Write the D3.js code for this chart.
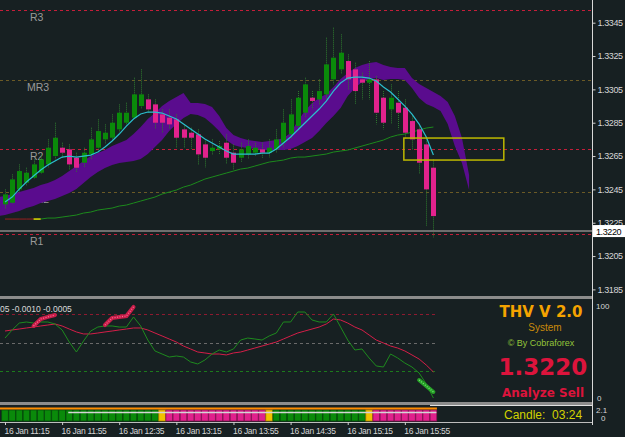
<!DOCTYPE html>
<html>
<head>
<meta charset="utf-8">
<script src="https://cdn.jsdelivr.net/npm/d3@7"></script>
<style>
  html, body { margin: 0; padding: 0; background: #172022; }
  svg { display: block; }
</style>
</head>
<body>
<div id="chart"></div>
<script>
// EURUSD-style M5 chart, 16 Jan 11:15 .. 16:15, with THV oscillator below

const W = 625, H = 437;
const BG = '#172022';

// candles: [open, high, low, close], one per 5-minute bar from 11:15
const candles = [
  [1.3236, 1.3245, 1.3233, 1.3242], [1.3237, 1.3254, 1.3236, 1.3251],
  [1.3245, 1.3260, 1.3243, 1.3256], [1.3249, 1.3258, 1.3247, 1.3255],
  [1.3252, 1.3263, 1.3251, 1.3260], [1.3255, 1.3266, 1.3254, 1.3263],
  [1.3260, 1.3275, 1.3258, 1.3270], [1.3265, 1.3285, 1.3263, 1.3276],
  [1.3270, 1.3273, 1.3264, 1.3267], [1.3269, 1.3272, 1.3257, 1.3260],
  [1.3264, 1.3267, 1.3255, 1.3258], [1.3261, 1.3270, 1.3258, 1.3267],
  [1.3266, 1.3282, 1.3263, 1.3275], [1.3270, 1.3287, 1.3267, 1.3280],
  [1.3275, 1.3284, 1.3272, 1.3279], [1.3276, 1.3290, 1.3275, 1.3285],
  [1.3281, 1.3296, 1.3279, 1.3291], [1.3285, 1.3297, 1.3283, 1.3291],
  [1.3288, 1.3312, 1.3287, 1.3302], [1.3295, 1.3317, 1.3293, 1.3302],
  [1.3299, 1.3302, 1.3291, 1.3293], [1.3296, 1.3299, 1.3281, 1.3285],
  [1.3290, 1.3293, 1.3279, 1.3285], [1.3288, 1.3293, 1.3281, 1.3284],
  [1.3287, 1.3290, 1.3270, 1.3276], [1.3281, 1.3284, 1.3270, 1.3276],
  [1.3279, 1.3282, 1.3269, 1.3276], [1.3278, 1.3281, 1.3260, 1.3266],
  [1.3272, 1.3275, 1.3258, 1.3264], [1.3268, 1.3275, 1.3266, 1.3270],
  [1.3269, 1.3274, 1.3266, 1.3271], [1.3273, 1.3278, 1.3260, 1.3264],
  [1.3267, 1.3272, 1.3257, 1.3261], [1.3264, 1.3273, 1.3261, 1.3269],
  [1.3266, 1.3275, 1.3263, 1.3271], [1.3267, 1.3273, 1.3265, 1.3270],
  [1.3269, 1.3273, 1.3264, 1.3267], [1.3267, 1.3275, 1.3264, 1.3270],
  [1.3269, 1.3281, 1.3267, 1.3275], [1.3273, 1.3293, 1.3270, 1.3285],
  [1.3278, 1.3299, 1.3275, 1.3290], [1.3283, 1.3304, 1.3281, 1.3300],
  [1.3291, 1.3312, 1.3288, 1.3308], [1.3300, 1.3304, 1.3293, 1.3298],
  [1.3299, 1.3311, 1.3296, 1.3304], [1.3302, 1.3336, 1.3299, 1.3320],
  [1.3311, 1.3342, 1.3308, 1.3324], [1.3317, 1.3338, 1.3314, 1.3327],
  [1.3322, 1.3326, 1.3305, 1.3311], [1.3317, 1.3321, 1.3296, 1.3304],
  [1.3311, 1.3315, 1.3299, 1.3309], [1.3309, 1.3322, 1.3299, 1.3311],
  [1.3311, 1.3313, 1.3284, 1.3291], [1.3300, 1.3304, 1.3281, 1.3285],
  [1.3293, 1.3308, 1.3284, 1.3300], [1.3297, 1.3304, 1.3281, 1.3291],
  [1.3294, 1.3299, 1.3275, 1.3279], [1.3286, 1.3290, 1.3269, 1.3275],
  [1.3281, 1.3284, 1.3254, 1.3261], [1.3272, 1.3275, 1.3223, 1.3245],
  [1.3258, 1.3263, 1.3216, 1.3229],
];

// fast MA (cyan), one value per bar
const fastMA = [
  1.32374, 1.32404, 1.32452, 1.32494, 1.32530, 1.32566, 1.32596, 1.32620, 1.32644, 1.32650,
  1.32644, 1.32650, 1.32656, 1.32674, 1.32704, 1.32740, 1.32782, 1.32830, 1.32872, 1.32902,
  1.32914, 1.32914, 1.32908, 1.32890, 1.32872, 1.32842, 1.32812, 1.32782, 1.32752, 1.32728,
  1.32704, 1.32680, 1.32662, 1.32662, 1.32662, 1.32662, 1.32668, 1.32668, 1.32692, 1.32728,
  1.32764, 1.32806, 1.32848, 1.32890, 1.32932, 1.32980, 1.33040, 1.33088, 1.33118, 1.33124,
  1.33124, 1.33118, 1.33100, 1.33064, 1.33034, 1.32992, 1.32950, 1.32902, 1.32842, 1.32764,
  1.32656,
];

// slow MA (green), one value per bar
const slowMA = [
  1.32272, 1.32272, 1.32272, 1.32272, 1.32272, 1.32272, 1.32278, 1.32278, 1.32284, 1.32290,
  1.32296, 1.32308, 1.32314, 1.32326, 1.32332, 1.32338, 1.32350, 1.32356, 1.32368, 1.32380,
  1.32392, 1.32404, 1.32422, 1.32434, 1.32446, 1.32464, 1.32476, 1.32494, 1.32512, 1.32524,
  1.32536, 1.32548, 1.32560, 1.32572, 1.32578, 1.32590, 1.32602, 1.32614, 1.32620, 1.32626,
  1.32638, 1.32644, 1.32644, 1.32650, 1.32656, 1.32662, 1.32674, 1.32680, 1.32686, 1.32698,
  1.32710, 1.32722, 1.32734, 1.32746, 1.32764, 1.32776, 1.32782, 1.32794, 1.32806, 1.32818,
  1.32824,
];

// purple band, bars -1 .. 65 (runs 5 bars past the last candle)
const CLOUD_FIRST_BAR = -1;
const cloudUpper = [
  1.32404, 1.32410, 1.32422, 1.32434, 1.32446, 1.32458, 1.32476, 1.32488, 1.32506, 1.32530,
  1.32560, 1.32590, 1.32620, 1.32650, 1.32668, 1.32686, 1.32710, 1.32728, 1.32746, 1.32782,
  1.32824, 1.32872, 1.32908, 1.32950, 1.32980, 1.33004, 1.33028, 1.32968, 1.32968, 1.32962,
  1.32944, 1.32890, 1.32818, 1.32776, 1.32758, 1.32746, 1.32740, 1.32734, 1.32740, 1.32746,
  1.32758, 1.32788, 1.32860, 1.32920, 1.32968, 1.32998, 1.33022, 1.33064, 1.33112, 1.33148,
  1.33178, 1.33196, 1.33208, 1.33214, 1.33196, 1.33184, 1.33178, 1.33178, 1.33118, 1.33082,
  1.33058, 1.33034, 1.33010, 1.32974, 1.32890, 1.32758, 1.32536,
];
const cloudLower = [
  1.32290, 1.32296, 1.32308, 1.32320, 1.32338, 1.32350, 1.32368, 1.32380, 1.32392, 1.32410,
  1.32428, 1.32452, 1.32488, 1.32524, 1.32554, 1.32578, 1.32596, 1.32608, 1.32614, 1.32620,
  1.32632, 1.32662, 1.32704, 1.32746, 1.32800, 1.32842, 1.32878, 1.32902, 1.32896, 1.32878,
  1.32842, 1.32800, 1.32746, 1.32716, 1.32704, 1.32698, 1.32692, 1.32686, 1.32686, 1.32686,
  1.32686, 1.32692, 1.32710, 1.32734, 1.32758, 1.32800, 1.32848, 1.32890, 1.32938, 1.33010,
  1.33058, 1.33094, 1.33112, 1.33118, 1.33106, 1.33112, 1.33112, 1.33106, 1.33058, 1.32998,
  1.32962, 1.32944, 1.32920, 1.32842, 1.32710, 1.32608, 1.32446,
];

// pivot levels
const pivotNames = ['R3', 'MR3', 'R2', 'MR2', 'R1'];
const pivotValues = [1.33524, 1.33106, 1.32690, 1.32436, 1.32180];

const priceTicks = [1.3345, 1.3325, 1.3305, 1.3285, 1.3265, 1.3245, 1.3225, 1.3205, 1.3185];
const lastPrice = 1.3220;

// zone box: bars 56..70, price range
const zoneBars = [56, 70];
const zonePrices = [1.32758, 1.32626];

// oscillator panel (0..100)
const oscMain = [
  64.9, 73.4, 80.7, 81.8, 80.7, 81.8, 81.8, 79.7, 73.4, 60.7,
  50.2, 61.8, 72.3, 76.5, 77.6, 77.6, 76.5, 76.5, 87.1, 77.6,
  62.8, 51.3, 48.1, 44.9, 46.0, 44.9, 39.7, 37.6, 41.8, 48.1,
  52.3, 50.2, 53.4, 62.8, 64.9, 63.9, 62.8, 67.1, 70.2, 81.8,
  81.8, 92.3, 92.3, 83.9, 81.8, 81.8, 90.2, 76.5, 62.8, 52.3,
  53.4, 43.9, 35.5, 34.4, 48.1, 43.9, 38.6, 34.4, 28.1, 16.5,
  1.8,
];
const oscSignal = [
  72.3, 73.4, 74.4, 75.5, 76.5, 77.6, 78.6, 79.7, 77.6, 74.4,
  71.3, 69.2, 69.2, 70.2, 71.3, 72.3, 73.4, 74.4, 75.5, 75.5,
  73.4, 70.2, 67.1, 63.9, 60.7, 56.5, 53.4, 50.2, 49.2, 48.1,
  48.1, 47.1, 49.2, 50.2, 52.3, 54.4, 56.5, 58.6, 60.7, 63.9,
  67.1, 70.2, 72.3, 74.4, 76.5, 79.7, 84.9, 83.9, 80.7, 76.5,
  73.4, 68.1, 62.8, 59.7, 56.5, 54.4, 51.3, 47.1, 42.8, 36.5,
  29.2,
];
const oscLevels = [90, 60, 30];
// highlighted signal strokes: [bar, value]
const sellMarks1 = [[4, 77.6], [5, 84.9], [6, 87.1], [7, 89.2]];
const sellMarks2 = [[14, 78.6], [15, 86.0], [16, 87.1], [17, 88.1], [18, 97.6]];
const buyMarks = [[58, 20.7], [59, 14.4], [60, 8.1]];

// trend strip, one state per bar: G = up, P = down, Y = switch
const stripState = ('GGGGGGGGGGGGGGGGGGGGGG' + 'Y' + 'PPPPPPPPPPPPPP' + 'Y' +
  'GGGGGGGGGGGGG' + 'Y' + 'PPPPPPPPP').split('');

const tickBars = [0, 8, 16, 24, 32, 40, 48, 56];
const timeLabels = ['16 Jan 11:15', '16 Jan 11:55', '16 Jan 12:35', '16 Jan 13:15',
  '16 Jan 13:55', '16 Jan 14:35', '16 Jan 15:15', '16 Jan 15:55'];

const STRIP_COLORS = { G: '#0a8a0a', P: '#e0208c', Y: '#f2c200' };
const UP = '#0a8a0a', DOWN = '#e2228d';
const AXIS_X = 592;

// Scales
const x = d3.scaleLinear().domain([0, 60]).range([5, 433.4]);
const y = d3.scaleLinear().domain([1.3345, 1.3185]).range([22.7, 289.4]);
const yOsc = d3.scaleLinear().domain([0, 100]).range([399.7, 304.7]);

const svg = d3.select('#chart').append('svg')
  .attr('width', W)
  .attr('height', H)
  .style('font-family', '"Liberation Sans", Arial, sans-serif');

svg.append('rect').attr('width', W).attr('height', H).attr('fill', BG);

const defs = svg.append('defs');
defs.append('clipPath').attr('id', 'main-clip')
  .append('rect').attr('x', 0).attr('y', 0).attr('width', AXIS_X).attr('height', 296);

const main = svg.append('g').attr('clip-path', 'url(#main-clip)');

// Pivot lines + labels
main.selectAll('.pivot')
  .data(pivotNames)
  .join('line')
  .attr('class', 'pivot')
  .attr('x1', 0).attr('x2', AXIS_X)
  .attr('y1', (d, i) => Math.round(y(pivotValues[i])) + 0.5)
  .attr('y2', (d, i) => Math.round(y(pivotValues[i])) + 0.5)
  .attr('stroke', d => d.startsWith('MR') ? '#6b5a26' : '#c41e3a')
  .attr('stroke-dasharray', '3,3');

main.selectAll('.pivot-label')
  .data(pivotNames)
  .join('text')
  .attr('class', 'pivot-label')
  .attr('x', d => d.startsWith('MR') ? 27 : 30)
  .attr('y', (d, i) => y(pivotValues[i]) + 11)
  .attr('font-size', '10.5px')
  .attr('fill', '#9a9a9a')
  .text(d => d);

// Purple band
const cloudBars = d3.range(CLOUD_FIRST_BAR, CLOUD_FIRST_BAR + cloudUpper.length);
main.append('path')
  .datum(cloudBars)
  .attr('fill', '#5a0c8e')
  .attr('d', d3.area()
    .x(i => x(i))
    .y0(i => y(cloudLower[i - CLOUD_FIRST_BAR]))
    .y1(i => y(cloudUpper[i - CLOUD_FIRST_BAR])));

// Slow MA: red start, short yellow piece, then green
const slowLine = d3.line().x(i => x(i)).y(i => y(slowMA[i]));
main.append('path').datum(d3.range(5, slowMA.length))
  .attr('d', slowLine).attr('fill', 'none').attr('stroke', '#1c8a1c').attr('stroke-width', 1);
main.append('path').datum(d3.range(0, 5))
  .attr('d', slowLine).attr('fill', 'none').attr('stroke', '#9a2020').attr('stroke-width', 1);
main.append('path').datum([4, 5])
  .attr('d', slowLine).attr('fill', 'none').attr('stroke', '#e0e000').attr('stroke-width', 1.5);

// Candles
const candleG = main.append('g');
candleG.selectAll('.wick')
  .data(candles)
  .join('line')
  .attr('class', 'wick')
  .attr('x1', (d, i) => Math.round(x(i)) + 0.5)
  .attr('x2', (d, i) => Math.round(x(i)) + 0.5)
  .attr('y1', d => y(d[1]))
  .attr('y2', d => y(d[2]))
  .attr('stroke', '#2f7a2f')
  .attr('stroke-dasharray', '1,1');

candleG.selectAll('.body')
  .data(candles)
  .join('rect')
  .attr('class', 'body')
  .attr('x', (d, i) => Math.round(x(i)) - 2)
  .attr('width', 5)
  .attr('y', d => y(Math.max(d[0], d[3])))
  .attr('height', d => Math.max(1.5, Math.abs(y(d[0]) - y(d[3]))))
  .attr('fill', d => d[3] >= d[0] ? UP : DOWN);

// Fast MA
main.append('path')
  .datum(fastMA)
  .attr('fill', 'none')
  .attr('stroke', '#2bbfcf')
  .attr('stroke-width', 1.2)
  .attr('d', d3.line().x((d, i) => x(i)).y(d => y(d)));

// Last price line
main.append('line')
  .attr('x1', 0).attr('x2', AXIS_X)
  .attr('y1', y(lastPrice)).attr('y2', y(lastPrice))
  .attr('stroke', '#6e6e6e').attr('stroke-width', 2);

// Zone box
main.append('rect')
  .attr('x', x(zoneBars[0]) - 1)
  .attr('y', y(zonePrices[0]))
  .attr('width', x(zoneBars[1]) - x(zoneBars[0]))
  .attr('height', y(zonePrices[1]) - y(zonePrices[0]))
  .attr('fill', 'none')
  .attr('stroke', '#bdb800')
  .attr('stroke-width', 1.5);

// Panel separators
svg.append('rect').attr('x', 0).attr('y', 296).attr('width', AXIS_X).attr('height', 3).attr('fill', '#8c8c8c');
svg.append('rect').attr('x', 0).attr('y', 402).attr('width', AXIS_X).attr('height', 3).attr('fill', '#8c8c8c');
svg.append('line').attr('x1', 430).attr('x2', AXIS_X).attr('y1', 405.5).attr('y2', 405.5).attr('stroke', '#e0e0e0');
svg.append('line').attr('x1', 0).attr('x2', AXIS_X).attr('y1', 422.5).attr('y2', 422.5).attr('stroke', '#bdbdbd');

// Price axis
const priceAxis = svg.append('g')
  .attr('transform', `translate(${AXIS_X + 0.5},0)`)
  .call(d3.axisRight(y).tickValues(priceTicks).tickFormat(d3.format('.4f')).tickSize(3).tickPadding(2));
priceAxis.select('.domain').remove();
priceAxis.selectAll('line').attr('stroke', '#d0d0d0');
priceAxis.selectAll('text')
  .attr('fill', '#d6d6d6')
  .attr('font-size', '9px')
  .attr('letter-spacing', '-0.4px')
  .attr('font-family', '"Liberation Sans", Arial, sans-serif');

svg.append('line')
  .attr('x1', AXIS_X + 0.5).attr('x2', AXIS_X + 0.5)
  .attr('y1', 0).attr('y2', 425)
  .attr('stroke', '#d8d8d8');

svg.append('rect')
  .attr('x', AXIS_X + 1).attr('y', y(lastPrice) - 6)
  .attr('width', W - AXIS_X - 1).attr('height', 12)
  .attr('fill', '#ffffff');
svg.append('text')
  .attr('x', AXIS_X + 4).attr('y', y(lastPrice) + 3.5)
  .attr('font-size', '9px').attr('letter-spacing', '-0.4px')
  .attr('fill', '#000')
  .text(d3.format('.4f')(lastPrice));

// Oscillator panel
const osc = svg.append('g');
osc.selectAll('.level')
  .data(oscLevels)
  .join('line')
  .attr('class', 'level')
  .attr('x1', 0).attr('x2', 435)
  .attr('y1', d => Math.round(yOsc(d)) + 0.5)
  .attr('y2', d => Math.round(yOsc(d)) + 0.5)
  .attr('stroke', (d, i) => ['#8e1a30', '#6a6a6a', '#1c7a1c'][i])
  .attr('stroke-dasharray', '3,3');

const oscLine = d3.line().x((d, i) => x(i)).y(d => yOsc(d));
osc.append('path').datum(oscSignal)
  .attr('d', oscLine).attr('fill', 'none').attr('stroke', '#d41e48').attr('stroke-width', 1);
osc.append('path').datum(oscMain)
  .attr('d', oscLine).attr('fill', 'none').attr('stroke', '#1e8a1e').attr('stroke-width', 1);

const markLine = d3.line().x(d => x(d[0])).y(d => yOsc(d[1]));
[sellMarks1, sellMarks2].forEach(marks => {
  osc.append('path').datum(marks).attr('d', markLine)
    .attr('fill', 'none').attr('stroke', '#c81e4a').attr('stroke-width', 4).attr('stroke-linecap', 'round');
  osc.append('path').datum(marks).attr('d', markLine)
    .attr('fill', 'none').attr('stroke', '#ff6f93').attr('stroke-width', 1.2).attr('stroke-dasharray', '1,1.5');
});
osc.append('path').datum(buyMarks).attr('d', markLine)
  .attr('fill', 'none').attr('stroke', '#27a327').attr('stroke-width', 4).attr('stroke-linecap', 'round');
osc.append('path').datum(buyMarks).attr('d', markLine)
  .attr('fill', 'none').attr('stroke', '#7ee07e').attr('stroke-width', 1.2).attr('stroke-dasharray', '1,1.5');

osc.append('text')
  .attr('x', 0).attr('y', 312)
  .attr('font-size', '8.5px').attr('fill', '#d8d8d8')
  .text('05 -0.0010 -0.0005');

const oscAxisText = [['100', 309, 4], ['0', 401, 5], ['2.1', 413, 4], ['0', 421, 9]];
svg.selectAll('.osc-axis')
  .data(oscAxisText)
  .join('text')
  .attr('class', 'osc-axis')
  .attr('x', d => AXIS_X + d[2])
  .attr('y', d => d[1])
  .attr('font-size', '8px')
  .attr('fill', '#d6d6d6')
  .text(d => d[0]);

// Info panel text
const info = svg.append('g').attr('text-anchor', 'middle');
info.append('text').attr('x', 541).attr('y', 317)
  .attr('font-family', '"DejaVu Sans", sans-serif').attr('font-weight', 'bold').attr('font-size', '15px')
  .attr('fill', '#f5a300').text('THV V 2.0');
info.append('text').attr('x', 545).attr('y', 331)
  .attr('font-size', '10px').attr('fill', '#c98a0a').text('System');
info.append('text').attr('x', 541).attr('y', 346)
  .attr('font-size', '9px').attr('fill', '#94c43a').text('© By Cobraforex');
info.append('text').attr('x', 543).attr('y', 375)
  .attr('font-family', '"DejaVu Sans", sans-serif').attr('font-weight', 'bold').attr('font-size', '23px')
  .attr('fill', '#dc143c').text(d3.format('.4f')(lastPrice));
info.append('text').attr('x', 543).attr('y', 397)
  .attr('font-family', '"DejaVu Sans", sans-serif').attr('font-weight', 'bold').attr('font-size', '12px')
  .attr('fill', '#dc143c').text('Analyze Sell');

// Trend strip
const strip = svg.append('g');
strip.selectAll('.blk')
  .data(stripState)
  .join('rect')
  .attr('class', 'blk')
  .attr('x', (d, i) => x(i) - 3.3)
  .attr('y', 410)
  .attr('width', 6.6)
  .attr('height', 11)
  .attr('fill', d => STRIP_COLORS[d])
  .attr('stroke', d => d === 'G' ? '#05500a' : d === 'P' ? '#8e1458' : '#b08a00')
  .attr('stroke-width', 0.8);
strip.append('line')
  .attr('x1', 0).attr('x2', x(60) + 3.5)
  .attr('y1', 408.5).attr('y2', 408.5)
  .attr('stroke', '#ff8c00').attr('stroke-width', 2);
strip.append('line')
  .attr('x1', x(9) - 1).attr('x2', x(60) + 3)
  .attr('y1', 412.5).attr('y2', 412.5)
  .attr('stroke', '#d4d4d4').attr('stroke-width', 1.5);

svg.append('text')
  .attr('x', 504).attr('y', 419)
  .attr('font-size', '12px').attr('fill', '#d2d200')
  .attr('xml:space', 'preserve')
  .text('Candle:  03:24');

// Time axis
const timeAxis = svg.append('g')
  .attr('transform', 'translate(0,422)')
  .call(d3.axisBottom(x).tickValues(tickBars).tickFormat((d, i) => timeLabels[i]).tickSize(3).tickPadding(3));
timeAxis.select('.domain').remove();
timeAxis.selectAll('line').attr('stroke', '#d0d0d0');
timeAxis.selectAll('text')
  .attr('text-anchor', 'start')
  .attr('x', -1)
  .attr('fill', '#d6d6d6')
  .attr('font-size', '8.5px')
  .attr('letter-spacing', '-0.3px')
  .attr('font-family', '"Liberation Sans", Arial, sans-serif');
</script>
</body>
</html>
